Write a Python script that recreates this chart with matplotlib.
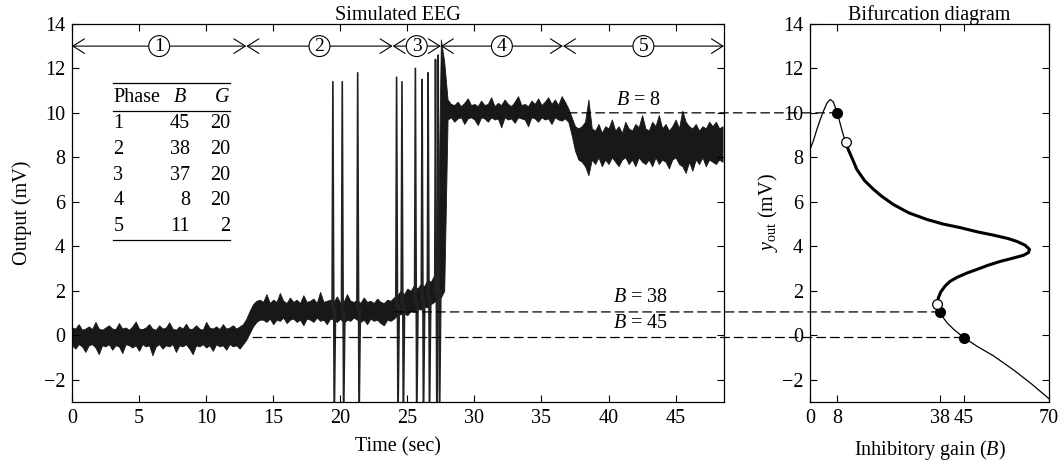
# -*- coding: utf-8 -*-
"""
Simulated EEG with phase table, next to the bifurcation diagram of y_out vs B
"""

import numpy as np
import matplotlib
matplotlib.use('Agg')
import matplotlib.pyplot as plt
from matplotlib.patches import ConnectionPatch

plt.rcParams['font.family'] = ['Liberation Serif', 'DejaVu Serif']
plt.rcParams['mathtext.fontset'] = 'custom'
plt.rcParams['mathtext.rm'] = 'Liberation Serif'
plt.rcParams['mathtext.it'] = 'Liberation Serif:italic'
plt.rcParams['font.size'] = 14.5

# EEG band: lower / upper edge of the noisy trace, read every 0.25 s
eeg_t = np.arange(0, 48.75, 0.25)
eeg_hi = [
    # phase 1
    0.35, 0.3, 0.5, 0.25, 0.3, 0.4, 0.28, 0.6, 0.3, 0.25,
    0.35, 0.45, 0.3, 0.28, 0.55, 0.3, 0.35, 0.25, 0.4, 0.62,
    0.3, 0.28, 0.35, 0.5, 0.3, 0.25, 0.45, 0.3, 0.35, 0.58,
    0.3, 0.25, 0.4, 0.3, 0.52, 0.28, 0.3, 0.45, 0.3, 0.25,
    0.6, 0.35, 0.3, 0.4, 0.28, 0.5, 0.3, 0.35, 0.45, 0.3, 0.4,
    # step up
    0.5, 0.75, 1.1, 1.4, 1.55, 1.6,
    # phase 2
    1.5, 1.85, 1.45, 1.6, 1.5, 1.9, 1.55, 1.45, 1.7, 1.5,
    1.6, 1.45, 1.8, 1.5, 1.55, 1.65, 1.45, 1.95, 1.5, 1.55,
    1.6, 1.5, 1.75, 1.45, 1.5, 1.85, 1.55, 1.5, 1.6, 1.45,
    1.7, 1.5, 1.55, 1.45, 1.65, 1.5, 1.45, 1.6, 1.55, 1.7,
    # phase 3 and jump
    1.8, 2.0, 1.85, 2.1, 2.0, 2.25, 2.1, 2.3, 2.2, 2.5, 2.4, 2.7, 2.9,
    13.3, 12.3,
    # phase 4
    10.6, 10.4, 10.35, 10.5, 10.3, 10.45, 10.65, 10.35, 10.4, 10.3,
    10.55, 10.35, 10.4, 10.7, 10.3, 10.45, 10.35, 10.6, 10.4, 10.3,
    10.5, 10.75, 10.35, 10.4, 10.3, 10.55, 10.4, 10.65, 10.35, 10.5,
    10.7, 10.4, 10.6, 10.35, 10.75, 10.5,
    # drop
    10.2, 9.8, 9.4, 9.3,
    # phase 5
    9.4, 9.6, 10.6, 9.3, 9.2, 9.5, 9.1, 9.4, 9.3, 9.7,
    9.2, 9.4, 9.1, 9.6, 9.3, 9.2, 9.5, 9.35, 9.9, 9.3,
    9.2, 9.6, 9.4, 9.9, 9.3, 9.5, 9.2, 9.4, 9.7, 9.3,
    10.1, 9.6, 9.4, 9.3, 9.5, 9.2, 9.4, 9.3, 9.6, 9.4,
    9.6, 9.3, 9.4]
eeg_lo = [
    # phase 1
    -0.45, -0.6, -0.4, -0.5, -0.75, -0.45, -0.4, -0.55, -0.85, -0.45,
    -0.5, -0.4, -0.65, -0.45, -0.5, -0.8, -0.4, -0.45, -0.55, -0.45,
    -0.7, -0.4, -0.5, -0.45, -0.9, -0.5, -0.4, -0.6, -0.45, -0.5,
    -0.4, -0.75, -0.45, -0.5, -0.4, -0.6, -0.85, -0.45, -0.5, -0.4,
    -0.55, -0.45, -0.7, -0.4, -0.5, -0.45, -0.65, -0.4, -0.5, -0.45, -0.6,
    # step up
    -0.4, -0.2, 0.1, 0.4, 0.6, 0.7,
    # phase 2
    0.7, 0.6, 0.75, 0.5, 0.7, 0.65, 0.8, 0.55, 0.7, 0.75,
    0.6, 0.7, 0.45, 0.75, 0.7, 0.6, 0.8, 0.65, 0.7, 0.5,
    0.75, 0.7, 0.6, 0.75, 0.55, 0.7, 0.65, 0.8, 0.7, 0.6,
    0.7, 0.5, 0.75, 0.65, 0.7, 0.55, 0.45, 0.7, 0.65, 0.75,
    # phase 3 and jump
    0.9, 0.95, 1.0, 0.9, 1.1, 1.05, 1.2, 1.15, 1.3, 1.25, 1.4, 1.5, 1.6,
    1.7, 2.0,
    # phase 4
    9.7, 9.8, 9.6, 9.75, 9.8, 9.5, 9.75, 9.8, 9.7, 9.45,
    9.8, 9.75, 9.6, 9.8, 9.7, 9.75, 9.35, 9.8, 9.7, 9.75,
    9.55, 9.8, 9.75, 9.7, 9.4, 9.8, 9.75, 9.6, 9.8, 9.7,
    9.75, 9.5, 9.8, 9.7, 9.65, 9.75,
    # drop
    9.6, 9.0, 8.3, 7.9,
    # phase 5
    7.8, 7.6, 7.2, 7.9, 7.7, 8.0, 7.6, 7.9, 7.7, 8.0,
    7.8, 7.6, 7.9, 8.0, 7.7, 7.9, 7.6, 8.0, 7.8, 7.7,
    7.9, 7.6, 8.0, 7.7, 7.9, 7.8, 7.5, 7.9, 8.0, 7.7,
    7.6, 7.3, 7.8, 7.4, 7.9, 7.7, 8.0, 7.6, 7.9, 7.8,
    7.7, 7.9, 7.8]

# seizure-like spikes: time, peak and level they rise from
spike_t = [19.45, 20.15, 21.3, 24.2, 24.6, 25.6, 26.1, 26.55, 27.1, 27.3]
spike_top = [11.4, 11.4, 11.8, 11.6, 11.4, 12.0, 11.5, 11.8, 12.4, 12.6]
spike_base = [1.2, 1.1, 1.2, 1.3, 1.4, 1.5, 1.6, 1.7, 1.9, 2.0]

# phases
phase_edges = [0, 13.0, 23.9, 27.5, 36.6, 48.6]
phase_names = ['1', '2', '3', '4', '5']
phase_B = ['45', '38', '37', '8', '11']
phase_G = ['20', '20', '20', '20', '2']

# bifurcation curve: upper thin branch, thick middle branch, lower thin branch
upper_B = [0, 1, 2, 3, 4, 5, 5.9, 6.8, 8.0, 9.3, 10.4]
upper_y = [8.35, 8.75, 9.25, 9.7, 10.1, 10.45, 10.6, 10.5, 10.0, 9.25, 8.68]
mid_B = [10.4, 11.2, 12.5, 13.7, 16, 18.6, 21, 24.4, 29, 34.2, 39, 44, 49,
         53.8, 58, 60.6, 63, 64.3, 64.0, 62.6, 59, 55.7, 52, 48.9, 46, 43.0,
         41, 39.6, 38.3, 37.6, 37.3]
mid_y = [8.68, 8.35, 7.9, 7.46, 6.95, 6.56, 6.25, 5.88, 5.5, 5.21, 5.0, 4.84,
         4.65, 4.5, 4.35, 4.22, 4.05, 3.86, 3.72, 3.6, 3.45, 3.32, 3.14, 2.96,
         2.8, 2.6, 2.42, 2.22, 1.95, 1.68, 1.42]
low_B = [37.3, 37.5, 37.9, 39, 40.1, 42, 45, 49, 53.8, 60, 65, 70]
low_y = [1.42, 1.25, 1.05, 0.8, 0.57, 0.28, -0.1, -0.5, -0.93, -1.6, -2.2, -2.85]

stable_B = [8, 38, 45]
stable_y = [10.0, 1.05, -0.1]
unstable_B = [10.4, 37.3]
unstable_y = [8.68, 1.42]

# dashed links EEG level -> equilibrium
link_t = [37.0, 24.1, 13.5]
link_labels = ['$B$ = 8', '$B$ = 38', '$B$ = 45']


fig = plt.figure(figsize=(10.63, 4.68), dpi=100)
ax = fig.add_axes([0.0677, 0.141, 0.6133, 0.808])
ax2 = fig.add_axes([0.762, 0.141, 0.2248, 0.808])

# EEG
ax.fill_between(eeg_t, eeg_lo, eeg_hi, color='#181818', lw=0.6, edgecolor='#181818')
for t, top, base in zip(spike_t, spike_top, spike_base):
    ax.plot([t - 0.06, t, t + 0.1, t + 0.2], [base, top, -4, base],
            color='#222222', lw=1.2)

ax.set_xlim(0, 48.6)
ax.set_ylim(-3, 14)
ax.set_xticks(range(0, 50, 5))
ax.set_yticks(range(-2, 15, 2))
ax.set_xlabel('Time (sec)', labelpad=7)
ax.set_ylabel('Output (mV)', labelpad=8)
ax.set_title('Simulated EEG', fontsize=14.5, pad=3)

# phase arrows
for i in range(5):
    a, b = phase_edges[i], phase_edges[i + 1]
    ax.annotate('', xy=(b, 13), xytext=(a, 13),
                arrowprops=dict(arrowstyle='<->, head_length=0.55, head_width=0.35',
                                shrinkA=0, shrinkB=0, lw=0.8, color='black',
                                mutation_scale=15))
    ax.text((a + b) / 2, 13, phase_names[i], ha='center', va='center', fontsize=14,
            bbox=dict(boxstyle='circle, pad=0.1', fc='white', ec='black', lw=0.8))

# phase table
ax.plot([3.08, 11.8], [11.33, 11.33], color='black', lw=0.9)
ax.plot([3.08, 11.8], [10.1, 10.1], color='black', lw=0.9)
ax.plot([3.08, 11.8], [4.3, 4.3], color='black', lw=0.9)
ax.text(3.08, 10.7, 'Phase', ha='left', va='center')
ax.text(8.6, 10.7, '$B$', ha='right', va='center')
ax.text(11.8, 10.7, '$G$', ha='right', va='center')
for i in range(5):
    y = 9.5 - 1.15 * i
    ax.text(3.08, y, phase_names[i], ha='left', va='center')
    ax.text(8.8, y, phase_B[i], ha='right', va='center')
    ax.text(11.8, y, phase_G[i], ha='right', va='center')

# bifurcation diagram
ax2.plot(upper_B, upper_y, color='black', lw=0.9)
ax2.plot(mid_B, mid_y, color='black', lw=2.2)
ax2.plot(low_B, low_y, color='black', lw=0.9)
ax2.plot(stable_B, stable_y, 'o', ms=7, mfc='black', mec='black', zorder=5)
ax2.plot(unstable_B, unstable_y, 'o', ms=7, mfc='white', mec='black', mew=0.9, zorder=5)
ax2.set_xlim(0, 70)
ax2.set_ylim(-3, 14)
ax2.set_xticks([0, 8, 38, 45, 70])
ax2.set_yticks(range(-2, 15, 2))
ax2.set_xlabel('Inhibitory gain ($B$)', labelpad=7)
ax2.set_ylabel('$y_{\\rm out}$ (mV)', labelpad=1)
ax2.set_title('Bifurcation diagram', fontsize=14.5, pad=3)

for a in (ax, ax2):
    a.tick_params(direction='in', top=True, right=True, length=5, width=0.8,
                  labelsize=14.5, pad=5)
    for s in a.spines.values():
        s.set_linewidth(0.9)

# dashed links
for t, y, b in zip(link_t, stable_y, stable_B):
    con = ConnectionPatch(xyA=(t, y), coordsA=ax.transData,
                          xyB=(b, y), coordsB=ax2.transData,
                          linestyle=(0, (7, 4)), color='black', lw=0.9)
    fig.add_artist(con)
ax.text(42.2, 10.15, link_labels[0], ha='center', va='bottom')
ax.text(42.4, 1.25, link_labels[1], ha='center', va='bottom')
ax.text(42.4, 0.1, link_labels[2], ha='center', va='bottom')

fig.savefig('out.png', dpi=100)
